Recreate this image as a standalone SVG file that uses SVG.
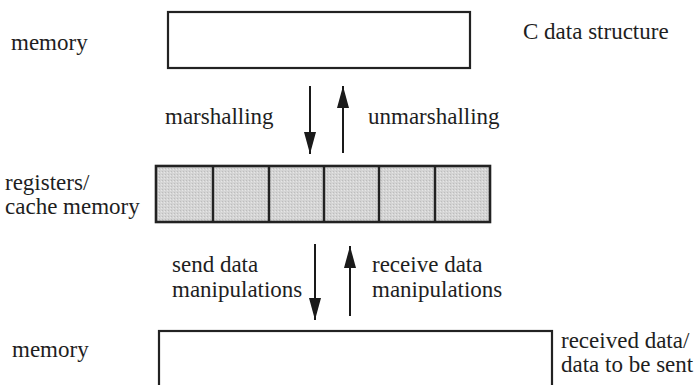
<svg xmlns="http://www.w3.org/2000/svg" width="699" height="385" viewBox="0 0 699 385">
  <defs>
    <marker id="head" markerUnits="userSpaceOnUse" markerWidth="22" markerHeight="12" refX="22" refY="6" orient="auto">
      <path d="M0,0 L22,6 L0,12 z" fill="#1a1a1a"/>
    </marker>
    <pattern id="stipple" width="3" height="3" patternUnits="userSpaceOnUse">
      <rect width="3" height="3" fill="#d4d4d4"/>
      <rect x="0" y="0" width="1" height="1" fill="#bdbdbd"/>
      <rect x="2" y="1" width="1" height="1" fill="#e6e6e6"/>
    </pattern>
  </defs>
  <style>
    text { font-family: "Liberation Serif", "Times New Roman", serif; font-size: 23px; fill: #1e1e1e; }
    .box { fill: #ffffff; stroke: #222222; stroke-width: 2.2; }
    .reg { fill: url(#stipple); stroke: #222222; stroke-width: 2.6; }
    .cell { stroke: #222222; stroke-width: 2.4; }
    .flow { stroke: #1a1a1a; stroke-width: 2; fill: none; marker-end: url(#head); }
  </style>
  <rect width="699" height="385" fill="#ffffff"/>

  <!-- memory holding the C data structure -->
  <g id="c-data">
    <rect class="box" x="168" y="12" width="302" height="56"/>
    <text x="11" y="50">memory</text>
    <text x="523" y="39">C data structure</text>
  </g>

  <!-- register / cache row of six cells -->
  <g id="registers">
    <rect class="reg" x="156" y="166" width="334" height="56"/>
    <line class="cell" x1="213" y1="166" x2="213" y2="222"/>
    <line class="cell" x1="269" y1="166" x2="269" y2="222"/>
    <line class="cell" x1="324" y1="166" x2="324" y2="222"/>
    <line class="cell" x1="379" y1="166" x2="379" y2="222"/>
    <line class="cell" x1="435" y1="166" x2="435" y2="222"/>
    <text x="5" y="190">registers/</text>
    <text x="5" y="214">cache memory</text>
  </g>

  <!-- message buffer memory -->
  <g id="buffer">
    <rect class="box" x="159" y="331" width="393" height="70"/>
    <text x="12" y="357">memory</text>
    <text x="561" y="348">received data/</text>
    <text x="561" y="372">data to be sent</text>
  </g>

  <!-- transfers between the layers -->
  <g id="connectors">
    <line class="flow" x1="310" y1="86" x2="310" y2="154"/>
    <line class="flow" x1="343" y1="153" x2="343" y2="86"/>
    <line class="flow" x1="315" y1="244" x2="315" y2="320"/>
    <line class="flow" x1="350" y1="316" x2="350" y2="246"/>
    <text x="165" y="124">marshalling</text>
    <text x="368" y="124">unmarshalling</text>
    <text x="172" y="272">send data</text>
    <text x="172" y="297">manipulations</text>
    <text x="372" y="272">receive data</text>
    <text x="372" y="297">manipulations</text>
  </g>
</svg>
